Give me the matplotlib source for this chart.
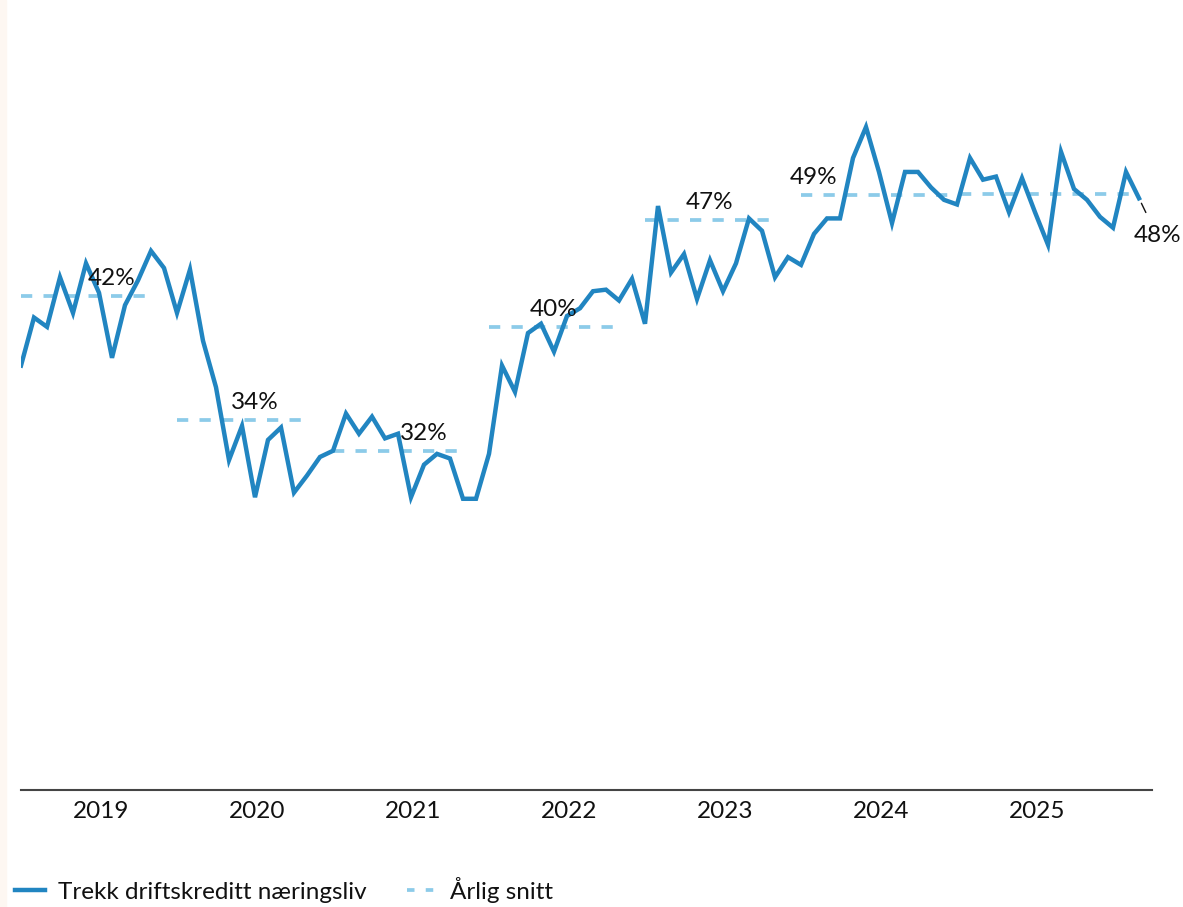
import matplotlib
matplotlib.use('Agg')
import matplotlib.pyplot as plt
from matplotlib.lines import Line2D
from matplotlib.patches import Rectangle

plt.rcParams['font.family'] = ['Lato', 'DejaVu Sans']

# Monthly draw on operating credit (%), Jan 2019 onwards
values = [
    37.4, 40.5, 39.9, 43.1, 40.8, 44.0, 42.1, 37.9, 41.3, 42.9, 44.8, 43.7,
    40.8, 43.6, 39.0, 36.0, 31.3, 33.5, 28.9, 32.6, 33.4, 29.2, 30.3, 31.5,
    31.9, 34.3, 33.0, 34.1, 32.7, 33.0, 28.9, 31.0, 31.7, 31.4, 28.8, 28.8,
    31.7, 37.4, 35.7, 39.5, 40.1, 38.3, 40.6, 41.1, 42.2, 42.3, 41.6, 43.0,
    40.1, 47.7, 43.4, 44.6, 41.7, 44.2, 42.2, 44.0, 46.9, 46.1, 43.1, 44.4,
    43.9, 45.9, 46.9, 46.9, 50.8, 52.8, 49.9, 46.6, 49.9, 49.9, 48.9, 48.1,
    47.8, 50.8, 49.4, 49.6, 47.3, 49.5, 47.3, 45.2, 51.2, 48.8, 48.1, 47.0,
    46.3, 49.9, 48.2,
]
years = ['2019', '2020', '2021', '2022', '2023', '2024', '2025']
year_tick_pos = [6.15, 18.15, 30.15, 42.15, 54.15, 66.15, 78.15]

# Annual averages: level, segment start/end (month index), label and label x
avg_level = [41.9, 33.9, 31.9, 39.9, 46.8, 48.4, 48.5]
avg_start = [0, 12, 24, 36, 48, 60, 72.2]
avg_end = [9.9, 21.9, 33.9, 45.9, 58, 71.8, 85.7]
avg_label = ['42%', '34%', '32%', '40%', '47%', '49%', None]
avg_label_x = [7, 18, 31, 41, 53, 61, None]
last_label = '48%'

line_color = '#2185c1'
avg_color = '#8ccbe9'
fs = 17.5

fig = plt.figure(figsize=(11.83, 9.07), dpi=100)
ax = fig.add_axes([21 / 1183, 117 / 907, 1131 / 1183, 790 / 907])

x = list(range(len(values)))
ax.plot(x, values, color=line_color, lw=3.2, solid_joinstyle='miter', zorder=3)

for lvl, s, e, lab, lx in zip(avg_level, avg_start, avg_end, avg_label, avg_label_x):
    ax.plot([s, e], [lvl, lvl], color=avg_color, lw=2.7, dashes=(3.0, 3.0), zorder=2)
    if lab:
        ax.annotate(lab, xy=(lx, lvl), xytext=(0, 5), textcoords='offset points',
                    ha='center', va='bottom', fontsize=fs, color='#111111', zorder=4)

ax.annotate(last_label, xy=(x[-1], values[-1]), xytext=(13, -27), textcoords='offset points',
            ha='center', va='center', fontsize=fs, color='#111111',
            arrowprops=dict(arrowstyle='-', color='#111111', lw=1, shrinkA=8, shrinkB=4))

ax.set_xlim(0, 87)
ax.set_ylim(10, 61)
ax.set_yticks([])
ax.set_xticks(year_tick_pos)
ax.set_xticklabels(years, fontsize=fs, color='#111111')
ax.tick_params(axis='x', length=0, pad=8)
for side in ['left', 'right', 'top']:
    ax.spines[side].set_visible(False)
ax.spines['bottom'].set_color('#444444')
ax.spines['bottom'].set_linewidth(1.5)

handles = [
    Line2D([], [], color=line_color, lw=3.2),
    Line2D([], [], color=avg_color, lw=2.7, dashes=(2.0, 3.0)),
]
fig.legend(handles, ['Trekk driftskreditt næringsliv', 'Årlig snitt'],
           loc='lower left', bbox_to_anchor=(15 / 1183, 4 / 907), ncol=2, frameon=False,
           fontsize=fs, handlelength=1.25, handletextpad=0.5, columnspacing=1.7,
           borderpad=0, borderaxespad=0, labelcolor='#111111')

fig.patches.append(Rectangle((0, 0), 6 / 1183, 1, transform=fig.transFigure,
                             color='#fdf7f2', zorder=0))

fig.savefig('out.png', dpi=100)
